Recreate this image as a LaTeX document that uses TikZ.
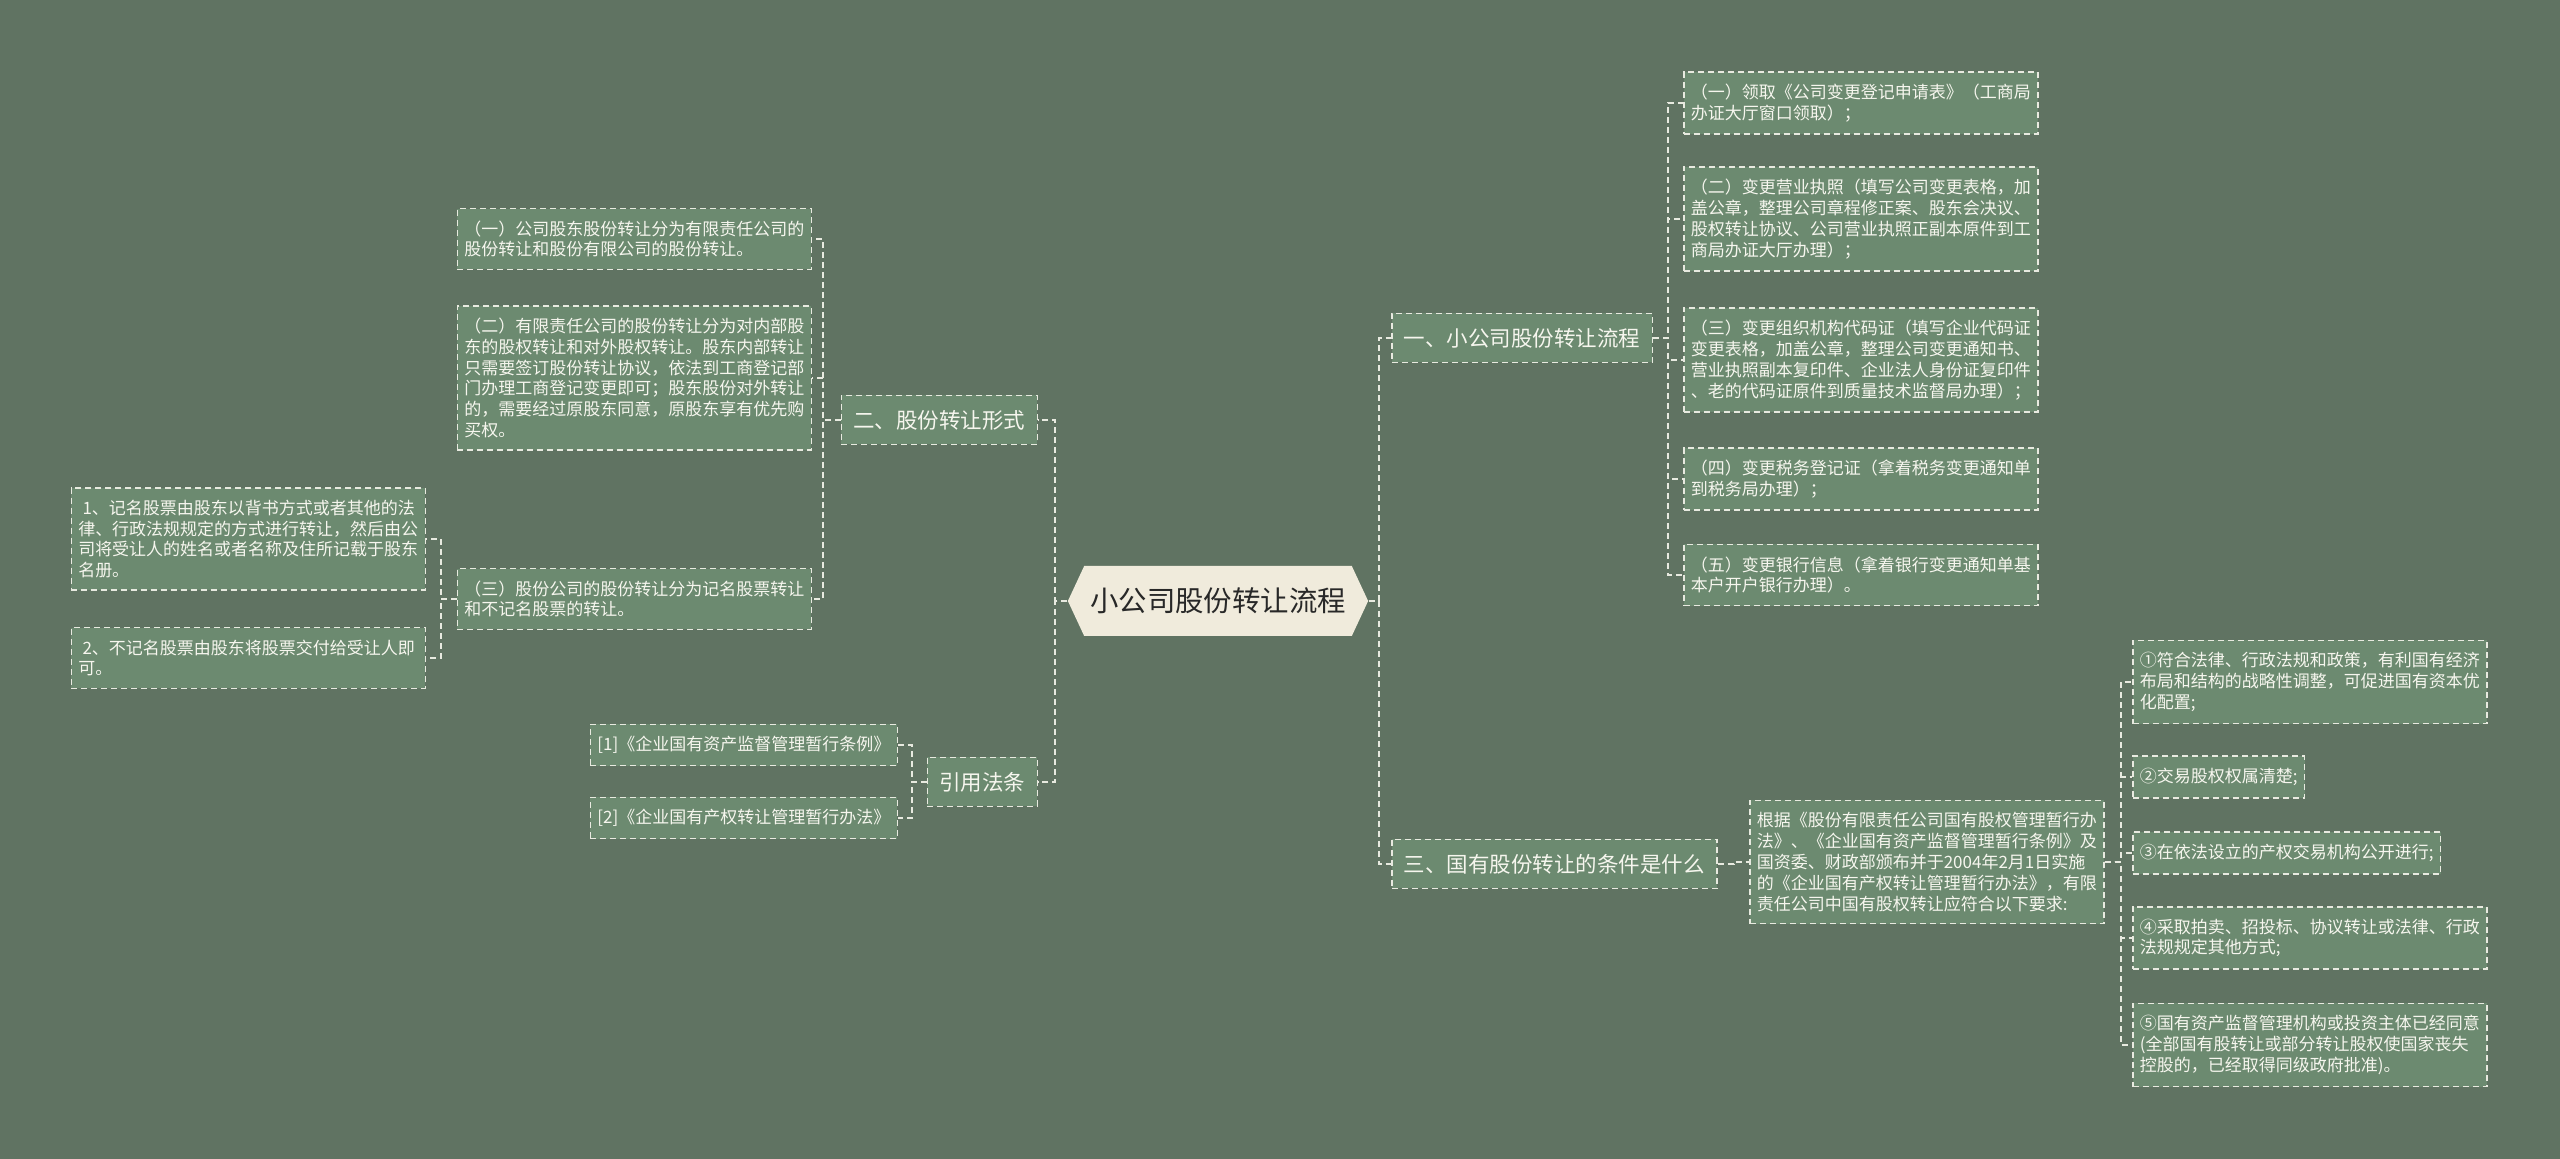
\documentclass[tikz,border=0pt]{standalone}
\usepackage{fontspec}
\usetikzlibrary{shapes.symbols}
\newfontfamily\cjk{Noto Sans CJK SC}
\definecolor{bgcolor}{RGB}{96,115,98}
\definecolor{boxfill}{RGB}{108,138,112}
\definecolor{linecolor}{RGB}{232,234,224}
\definecolor{textcolor}{RGB}{246,246,238}
\definecolor{rootfill}{RGB}{240,235,220}
\definecolor{roottext}{RGB}{40,40,40}
\tikzset{
  centre/.style={shape=signal, signal to=west and east, signal pointer angle=130,
    fill=rootfill, text=roottext, font=\cjk\fontsize{14.2}{16}\selectfont,
    minimum height=35pt, inner xsep=3pt},
  topic/.style={draw=linecolor, dash pattern=on 3pt off 2pt, line width=0.75pt,
    fill=boxfill, text=textcolor, font=\cjk\fontsize{10.75}{13}\selectfont,
    inner xsep=6pt, minimum height=24.5pt},
  leaf/.style={draw=linecolor, dash pattern=on 3pt off 2pt, line width=0.75pt,
    fill=boxfill, text=textcolor, font=\cjk\fontsize{8.5}{10.4}\selectfont,
    align=left, inner xsep=3.5pt, inner ysep=6pt},
  link/.style={draw=linecolor, line width=1pt, dash pattern=on 3pt off 2pt}
}
\begin{document}
\begin{tikzpicture}[x=0.5pt,y=-0.5pt]
\fill[bgcolor] (0,0) rectangle (2560,1159);
\useasboundingbox (0,0) rectangle (2560,1159);
% centre
\node[centre] (root) at (1218,601) {小公司股份转让流程};
% right side
\node[topic,anchor=west] (flow) at (1391,338) {一、小公司股份转让流程};
\node[topic,anchor=west] (cond) at (1391,864) {三、国有股份转让的条件是什么};
\node[leaf,anchor=west] (flow1) at (1683,103) {（一）领取《公司变更登记申请表》（工商局\\办证大厅窗口领取）；};
\node[leaf,anchor=west] (flow2) at (1683,219) {（二）变更营业执照（填写公司变更表格，加\\盖公章，整理公司章程修正案、股东会决议、\\股权转让协议、公司营业执照正副本原件到工\\商局办证大厅办理）；};
\node[leaf,anchor=west] (flow3) at (1683,360) {（三）变更组织机构代码证（填写企业代码证\\变更表格，加盖公章，整理公司变更通知书、\\营业执照副本复印件、企业法人身份证复印件\\、老的代码证原件到质量技术监督局办理）；};
\node[leaf,anchor=west] (flow4) at (1683,479) {（四）变更税务登记证（拿着税务变更通知单\\到税务局办理）；};
\node[leaf,anchor=west] (flow5) at (1683,575) {（五）变更银行信息（拿着银行变更通知单基\\本户开户银行办理）。};
\node[leaf,anchor=west] (basis) at (1749,862) {根据《股份有限责任公司国有股权管理暂行办\\法》、《企业国有资产监督管理暂行条例》及\\国资委、财政部颁布并于2004年2月1日实施\\的《企业国有产权转让管理暂行办法》，有限\\责任公司中国有股权转让应符合以下要求:};
\node[leaf,anchor=west] (req1) at (2132,682) {①符合法律、行政法规和政策，有利国有经济\\布局和结构的战略性调整，可促进国有资本优\\化配置;};
\node[leaf,anchor=west] (req2) at (2132,777) {②交易股权权属清楚;};
\node[leaf,anchor=west] (req3) at (2132,853) {③在依法设立的产权交易机构公开进行;};
\node[leaf,anchor=west] (req4) at (2132,938) {④采取拍卖、招投标、协议转让或法律、行政\\法规规定其他方式;};
\node[leaf,anchor=west] (req5) at (2132,1045) {⑤国有资产监督管理机构或投资主体已经同意\\(全部国有股转让或部分转让股权使国家丧失\\控股的，已经取得同级政府批准)。};
% left side
\node[topic,anchor=east] (form) at (1038,420) {二、股份转让形式};
\node[topic,anchor=east] (laws) at (1038,782) {引用法条};
\node[leaf,anchor=east] (form1) at (812,239) {（一）公司股东股份转让分为有限责任公司的\\股份转让和股份有限公司的股份转让。};
\node[leaf,anchor=east] (form2) at (812,378) {（二）有限责任公司的股份转让分为对内部股\\东的股权转让和对外股权转让。股东内部转让\\只需要签订股份转让协议，依法到工商登记部\\门办理工商登记变更即可；股东股份对外转让\\的，需要经过原股东同意，原股东享有优先购\\买权。};
\node[leaf,anchor=east] (form3) at (812,599) {（三）股份公司的股份转让分为记名股票转让\\和不记名股票的转让。};
\node[leaf,anchor=east,text width=170pt] (stock1) at (426,539) {\hspace*{0.25em}1、记名股票由股东以背书方式或者其他的法\\律、行政法规规定的方式进行转让，然后由公\\司将受让人的姓名或者名称及住所记载于股东\\名册。};
\node[leaf,anchor=east,text width=170pt] (stock2) at (426,658) {\hspace*{0.25em}2、不记名股票由股东将股票交付给受让人即\\可。};
\node[leaf,anchor=east] (law1) at (898,745) {[1]《企业国有资产监督管理暂行条例》};
\node[leaf,anchor=east] (law2) at (898,818) {[2]《企业国有产权转让管理暂行办法》};
% connectors
\foreach \t in {flow,cond} \draw[link] (root.east) -- ++(10,0) |- (\t.west);
\foreach \t in {form,laws} \draw[link] (root.west) -- ++(-12,0) |- (\t.east);
\foreach \t in {flow1,flow2,flow3,flow4,flow5} \draw[link] (flow.east) -- ++(15,0) |- (\t.west);
\draw[link] (cond.east) -- ++(16,0) |- (basis.west);
\foreach \t in {req1,req2,req3,req4,req5} \draw[link] (basis.east) -- ++(16,0) |- (\t.west);
\foreach \t in {form1,form2,form3} \draw[link] (form.west) -- ++(-18,0) |- (\t.east);
\foreach \t in {stock1,stock2} \draw[link] (form3.west) -- ++(-16,0) |- (\t.east);
\foreach \t in {law1,law2} \draw[link] (laws.west) -- ++(-15,0) |- (\t.east);
\end{tikzpicture}
\end{document}
